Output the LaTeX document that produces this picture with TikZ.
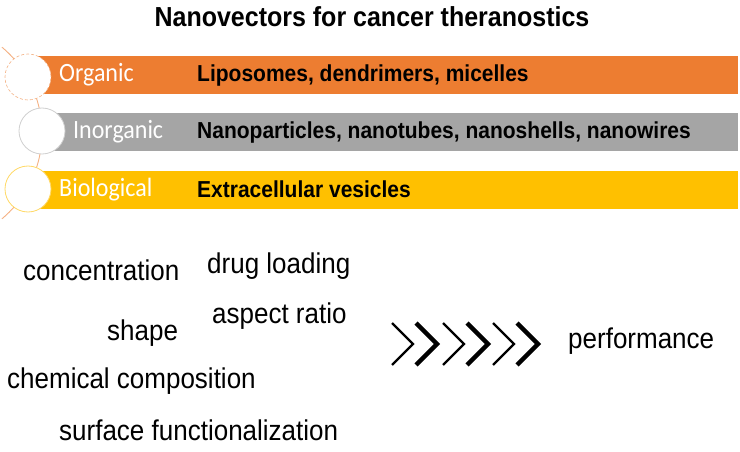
\documentclass[tikz,border=0pt]{standalone}
\usepackage{fontspec}
\usepackage{graphicx}
\setmainfont{Liberation Sans}
\newfontfamily\calfont{Carlito}
\usetikzlibrary{positioning}
\definecolor{orgfill}{HTML}{ED7D31}
\definecolor{inofill}{HTML}{A5A5A5}
\definecolor{biofill}{HTML}{FFC000}
\definecolor{orgline}{HTML}{F4B183}
\definecolor{inoline}{HTML}{D0D0D0}
\definecolor{bioline}{HTML}{FFD966}
\newcommand{\tall}[1]{\scalebox{1}[1.1]{#1}}
\tikzset{
  bar/.style={anchor=west,minimum height=38,inner sep=0},
  disc/.style={circle,fill=white,minimum size=46,inner sep=0,line width=.8},
  kind/.style={anchor=base west,inner sep=0,text=white,font=\calfont\fontsize{24}{28}\selectfont},
  members/.style={anchor=base west,inner sep=0,font=\bfseries\fontsize{21}{25}\selectfont},
  factor/.style={anchor=base west,inner sep=0,font=\fontsize{26}{30}\selectfont}
}
\begin{document}
\begin{tikzpicture}[x=1pt,y=-1pt]
\useasboundingbox (0,0) rectangle (740,452);
\node[anchor=base,inner sep=0,font=\bfseries\fontsize{25}{30}\selectfont] (title) at (372,27) {\tall{Nanovectors for cancer theranostics}};
% bars
\node[bar,fill=orgfill,minimum width=710] (orgbar) at (28,75) {};
\node[bar,fill=inofill,minimum width=696] (inobar) at (42,132) {};
\node[bar,fill=biofill,minimum width=710] (biobar) at (28,189.5) {};
\draw[orgline,line width=.9] (-70,133) ++(-50:112) arc[start angle=-50,end angle=50,radius=112];
\node[disc,draw=orgline,densely dashed,line width=.6] (orgdisc) at (28,77) {};
\node[disc,draw=inoline] (inodisc) at (42,131) {};
\node[disc,draw=bioline] (biodisc) at (28,189) {};
\node[kind] (org) at (59,82) {\tall{Organic}};
\node[kind] (ino) at (73,139) {\tall{Inorganic}};
\node[kind] (bio) at (59,196) {\tall{Biological}};
\node[members] (orgtxt) at (197,82) {\tall{Liposomes, dendrimers, micelles}};
\node[members] (inotxt) at (197,139) {\tall{Nanoparticles, nanotubes, nanoshells, nanowires}};
\node[members] (biotxt) at (197,197) {\tall{Extracellular vesicles}};
% parameters
\node[factor] (conc) at (23,280) {\tall{concentration}};
\node[factor] (drug) at (207,273) {\tall{drug loading}};
\node[factor] (aspect) at (212,323) {\tall{aspect ratio}};
\node[factor] (shape) at (107,340) {\tall{shape}};
\node[factor] (chem) at (7,388) {\tall{chemical composition}};
\node[factor] (surf) at (59,440) {\tall{surface functionalization}};
\foreach \x/\w in {392/2.2,416/4.4,443/2.2,467/4.4,493/2.2,517/4.4}
  \draw[line width=\w] (\x,323)--(\x+21,344)--(\x,365);
\node[factor] (perf) at (568,348) {\tall{performance}};
\end{tikzpicture}
\end{document}
